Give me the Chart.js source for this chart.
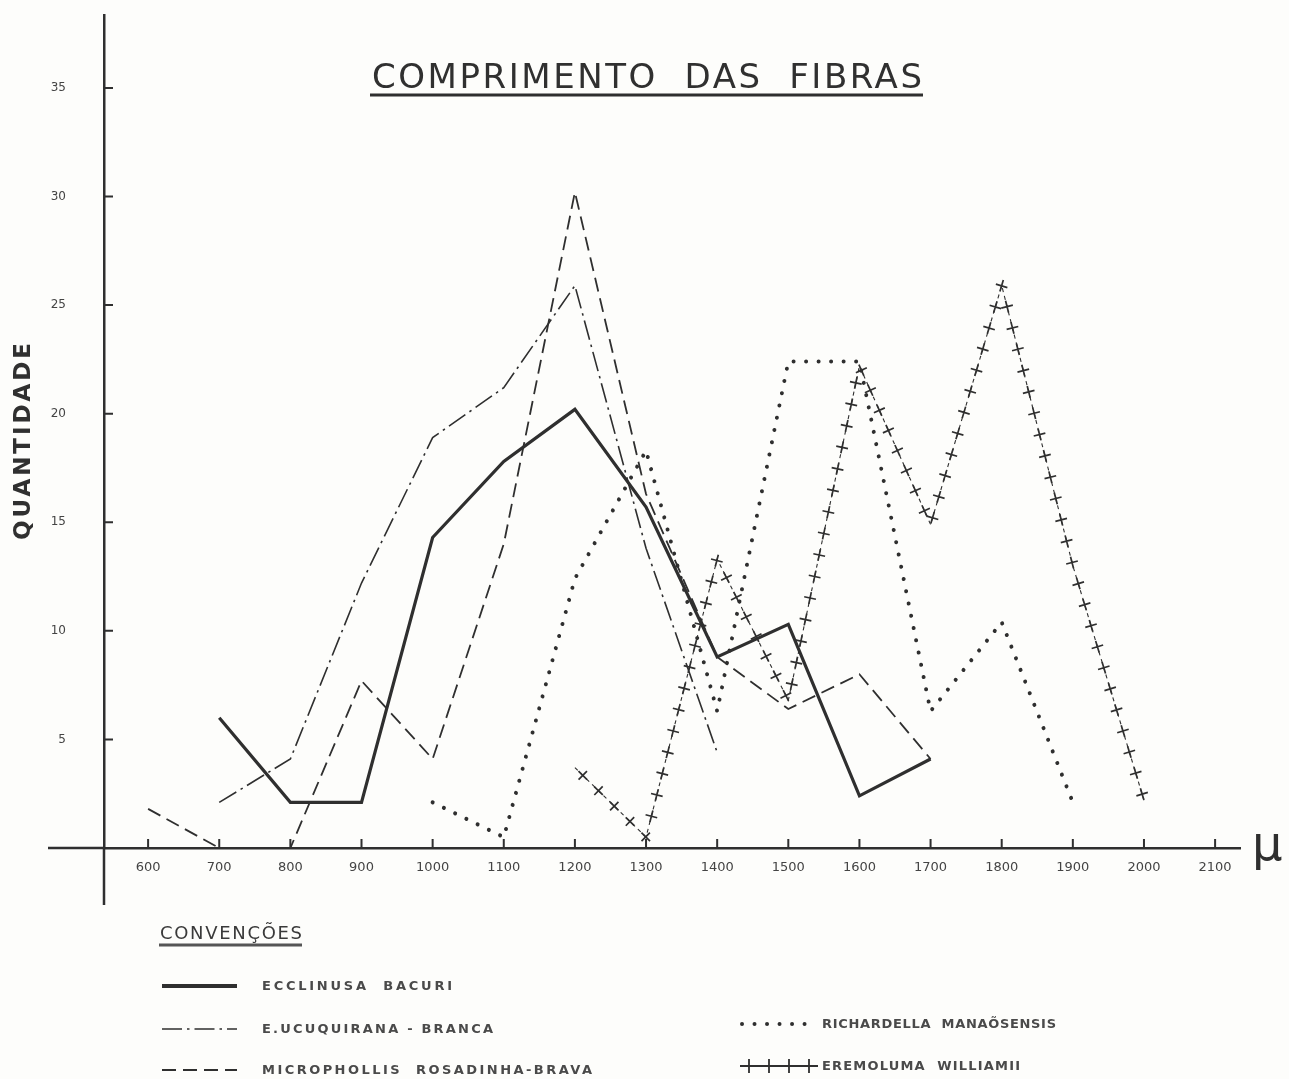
<!DOCTYPE html>
<html>
<head>
<meta charset="utf-8">
<title>Comprimento das fibras</title>
<script src="https://cdn.jsdelivr.net/npm/chart.js@4.4.1/dist/chart.umd.min.js"></script>
<style>
  html, body { margin: 0; padding: 0; background: #fdfdfb; }
  #wrap { width: 1289px; height: 1079px; position: relative; }
</style>
</head>
<body>
<div id="wrap"><canvas id="fibras"></canvas></div>
<script>
// tick labels
const xTicks = [600, 700, 800, 900, 1000, 1100, 1200, 1300, 1400, 1500, 1600, 1700, 1800, 1900, 2000, 2100];
const yTicks = [5, 10, 15, 20, 25, 30, 35];

// Ecclinusa bacuri (solid)
const bacuriX = [700, 800, 900, 1000, 1100, 1200, 1300, 1400, 1500, 1600, 1700];
const bacuriY = [6.0, 2.1, 2.1, 14.3, 17.8, 20.2, 15.7, 8.8, 10.3, 2.4, 4.1];

// E. ucuquirana-branca (dash-dot)
const ucuquiranaX = [700, 800, 900, 1000, 1100, 1200, 1300, 1400];
const ucuquiranaY = [2.1, 4.1, 12.2, 18.9, 21.2, 25.9, 13.8, 4.4];

// Micropholis rosadinha-brava (dashed)
const rosadinhaX = [600, 700, 800, 900, 1000, 1100, 1200, 1300, 1400, 1500, 1600, 1700];
const rosadinhaY = [1.8, 0, 0, 7.7, 4.1, 14.0, 30.2, 16.3, 8.8, 6.4, 8.0, 4.1];

// Richardella manaosensis (dotted)
const richardellaX = [1000, 1100, 1200, 1300, 1400, 1500, 1600, 1700, 1800, 1900];
const richardellaY = [2.1, 0.5, 12.4, 18.3, 6.3, 22.4, 22.4, 6.3, 10.4, 2.1];

// Eremoluma williamii (crosses)
const eremolumaX = [1200, 1300, 1400, 1500, 1600, 1700, 1800, 1900, 2000];
const eremolumaY = [3.7, 0.5, 13.3, 6.8, 22.2, 14.9, 25.9, 13.0, 2.2];

const seriesNames = [
  "ECCLINUSA  BACURI",
  "E.UCUQUIRANA - BRANCA",
  "MICROPHOLLIS  ROSADINHA-BRAVA",
  "RICHARDELLA  MANAÕSENSIS",
  "EREMOLUMA  WILLIAMII"
];

const INK = "#2f2f2f";
const FONT = "'DejaVu Sans', sans-serif";

const toPoints = (xs, ys) => xs.map((x, i) => ({ x: x, y: ys[i] }));

// draw text stretched to a given width using canvas letterSpacing
function spacedText(ctx, text, x, y, width) {
  ctx.letterSpacing = "0px";
  const w = ctx.measureText(text).width;
  const sp = (width - w) / (text.length - 1);
  ctx.letterSpacing = sp + "px";
  ctx.textAlign = "left";
  ctx.fillText(text, x, y);
  ctx.letterSpacing = "0px";
}

// crosses placed along the line, one arm along the segment, one across
function drawCrosses(ctx, pts, step, half) {
  let carry = step / 2;
  for (let i = 0; i < pts.length - 1; i++) {
    const a = pts[i], b = pts[i + 1];
    const dx = b.x - a.x, dy = b.y - a.y;
    const len = Math.hypot(dx, dy);
    const ux = dx / len, uy = dy / len;
    let d = carry;
    while (d < len) {
      const cx = a.x + ux * d, cy = a.y + uy * d;
      ctx.beginPath();
      ctx.moveTo(cx - ux * half, cy - uy * half);
      ctx.lineTo(cx + ux * half, cy + uy * half);
      ctx.moveTo(cx + uy * half, cy - ux * half);
      ctx.lineTo(cx - uy * half, cy + ux * half);
      ctx.stroke();
      d += step;
    }
    carry = d - len;
  }
}

const decor = {
  id: "decor",
  beforeDraw(chart) {
    const ctx = chart.ctx;
    ctx.save();
    ctx.fillStyle = "#fdfdfb";
    ctx.fillRect(0, 0, chart.width, chart.height);
    ctx.restore();
  },
  afterDraw(chart) {
    const ctx = chart.ctx;
    const xs = chart.scales.x, ys = chart.scales.y;
    const y0 = ys.getPixelForValue(0);
    const ax = xs.left;
    ctx.save();
    ctx.strokeStyle = INK;
    ctx.fillStyle = INK;

    // axis extensions past the origin
    ctx.lineWidth = 2.5;
    ctx.beginPath();
    ctx.moveTo(48, y0);
    ctx.lineTo(ax, y0);
    ctx.moveTo(ax, y0);
    ctx.lineTo(ax, y0 + 57);
    ctx.stroke();

    // tick marks, drawn inward
    ctx.lineWidth = 2;
    ctx.beginPath();
    xTicks.forEach(v => {
      const px = xs.getPixelForValue(v);
      ctx.moveTo(px, y0);
      ctx.lineTo(px, y0 - 9);
    });
    yTicks.forEach(v => {
      const py = ys.getPixelForValue(v);
      ctx.moveTo(ax, py);
      ctx.lineTo(ax + 9, py);
    });
    ctx.stroke();

    // crosses for Eremoluma
    const meta = chart.getDatasetMeta(4);
    const pts = meta.data.map(p => ({ x: p.x, y: p.y }));
    ctx.lineWidth = 1.7;
    drawCrosses(ctx, pts, 22, 6);

    // title
    ctx.fillStyle = "#303030";
    ctx.font = "34px " + FONT;
    ctx.textBaseline = "alphabetic";
    spacedText(ctx, "COMPRIMENTO  DAS  FIBRAS", 372, 88, 550);
    ctx.lineWidth = 3;
    ctx.beginPath();
    ctx.moveTo(370, 95);
    ctx.lineTo(923, 95);
    ctx.stroke();

    // y axis title
    ctx.save();
    ctx.translate(24, 540);
    ctx.rotate(-Math.PI / 2);
    ctx.font = "bold 23px " + FONT;
    ctx.textBaseline = "middle";
    spacedText(ctx, "QUANTIDADE", 0, 0, 197);
    ctx.restore();

    // micron symbol
    ctx.fillStyle = INK;
    ctx.font = "48px " + FONT;
    ctx.textBaseline = "alphabetic";
    ctx.fillText("\u03bc", 1252, 860);

    // legend
    ctx.fillStyle = "#3a3a3a";
    ctx.font = "18px " + FONT;
    spacedText(ctx, "CONVENÇÕES", 160, 939, 142);
    ctx.strokeStyle = "#555";
    ctx.lineWidth = 3;
    ctx.beginPath();
    ctx.moveTo(159, 945);
    ctx.lineTo(302, 945);
    ctx.stroke();

    const rows = [
      { ds: 0, x: 162, y: 986, tx: 262, w: 190 },
      { ds: 1, x: 162, y: 1029, tx: 262, w: 231 },
      { ds: 2, x: 162, y: 1070, tx: 262, w: 330 },
      { ds: 3, x: 742, y: 1024, tx: 822, w: 234 },
      { ds: 4, x: 742, y: 1066, tx: 822, w: 198 }
    ];
    ctx.font = "bold 13px " + FONT;
    ctx.textBaseline = "middle";
    rows.forEach(r => {
      const ds = chart.data.datasets[r.ds];
      ctx.strokeStyle = INK;
      if (r.ds === 4) {
        ctx.lineWidth = 1.8;
        ctx.beginPath();
        ctx.moveTo(r.x - 2, r.y);
        ctx.lineTo(r.x + 76, r.y);
        for (let k = 0; k < 4; k++) {
          const cx = r.x + 7 + k * 20;
          ctx.moveTo(cx, r.y - 7);
          ctx.lineTo(cx, r.y + 7);
        }
        ctx.stroke();
      } else {
        ctx.save();
        ctx.lineWidth = r.ds === 0 ? 4 : ds.borderWidth;
        ctx.setLineDash(ds.borderDash || []);
        ctx.lineCap = ds.borderCapStyle || "butt";
        ctx.beginPath();
        ctx.moveTo(r.x, r.y);
        ctx.lineTo(r.x + 75, r.y);
        ctx.stroke();
        ctx.restore();
      }
      ctx.fillStyle = "#4a4a4a";
      spacedText(ctx, ds.label, r.tx, r.y + 1, r.w);
    });
    ctx.restore();
  }
};

new Chart(document.getElementById("fibras"), {
  type: "line",
  data: {
    datasets: [
      {
        label: seriesNames[0],
        data: toPoints(bacuriX, bacuriY),
        borderColor: INK,
        borderWidth: 3.2
      },
      {
        label: seriesNames[1],
        data: toPoints(ucuquiranaX, ucuquiranaY),
        borderColor: INK,
        borderWidth: 1.6,
        borderDash: [20, 5, 2.5, 5]
      },
      {
        label: seriesNames[2],
        data: toPoints(rosadinhaX, rosadinhaY),
        borderColor: INK,
        borderWidth: 1.8,
        borderDash: [14, 7]
      },
      {
        label: seriesNames[3],
        data: toPoints(richardellaX, richardellaY),
        borderColor: INK,
        borderWidth: 4,
        borderDash: [0.01, 12.5],
        borderCapStyle: "round"
      },
      {
        label: seriesNames[4],
        data: toPoints(eremolumaX, eremolumaY),
        borderColor: INK,
        borderWidth: 1.1,
        borderDash: [4, 4]
      }
    ]
  },
  options: {
    responsive: true,
    maintainAspectRatio: false,
    animation: false,
    elements: {
      point: { radius: 0 },
      line: { tension: 0, fill: false }
    },
    layout: { padding: { top: 15, right: 49, left: 0, bottom: 0 } },
    plugins: {
      legend: { display: false },
      tooltip: { enabled: false },
      title: { display: false }
    },
    scales: {
      x: {
        type: "linear",
        min: 538,
        max: 2135,
        grid: { display: false },
        border: { color: INK, width: 2.5 },
        ticks: {
          autoSkip: false,
          maxRotation: 0,
          padding: 4,
          color: "#444",
          font: { family: FONT, size: 13 },
          callback: v => String(v)
        },
        afterBuildTicks: s => { s.ticks = xTicks.map(v => ({ value: v })); },
        afterFit: s => { s.height = 231; }
      },
      y: {
        min: 0,
        max: 38.36,
        grid: { display: false },
        border: { color: INK, width: 2.5 },
        ticks: {
          padding: 30,
          color: "#444",
          font: { family: FONT, size: 12 },
          callback: v => String(v)
        },
        afterBuildTicks: s => { s.ticks = yTicks.map(v => ({ value: v })); },
        afterFit: s => { s.width = 104; s.paddingTop = 0; s.paddingBottom = 0; }
      }
    }
  },
  plugins: [decor]
});
</script>
</body>
</html>
